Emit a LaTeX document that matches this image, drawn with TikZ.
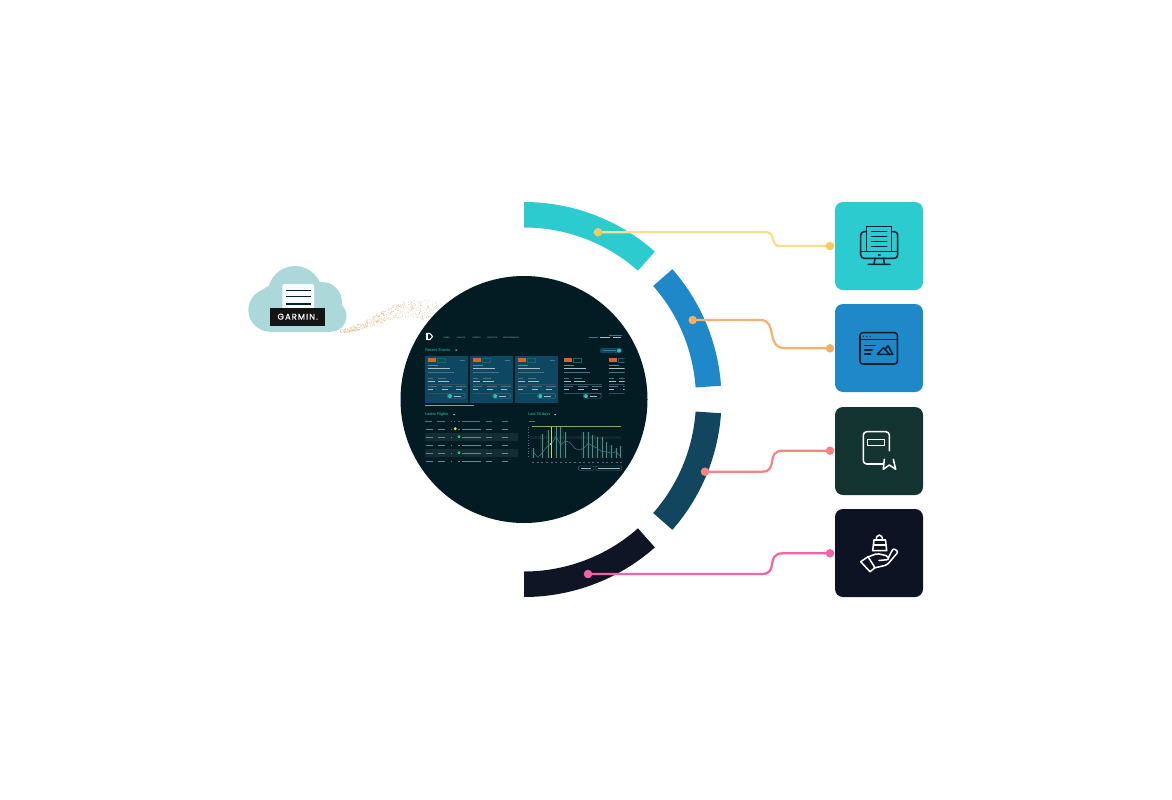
\documentclass[tikz,border=0pt]{standalone}
\usepackage{fontspec}
\usepackage{xcolor}
\setmainfont{Liberation Sans}
\newfontfamily\garminfont[LetterSpace=12,FakeBold=0.4]{Poppins}
\definecolor{ringteal}{HTML}{2CCBD0}
\definecolor{ringblue}{HTML}{1F88C9}
\definecolor{ringpetrol}{HTML}{12455E}
\definecolor{ringnavy}{HTML}{0F1524}
\definecolor{tilegreen}{HTML}{143432}
\definecolor{tilenavy}{HTML}{0D1322}
\definecolor{screenbg}{HTML}{031C24}
\definecolor{cardbg}{HTML}{0E4761}
\definecolor{cloudblue}{HTML}{ADD8DA}
\definecolor{trailtan}{HTML}{D9B07A}
\definecolor{linkyellow}{HTML}{F8DF8A}
\definecolor{dotyellow}{HTML}{F9C95C}
\definecolor{linkorange}{HTML}{F3B373}
\definecolor{dotorange}{HTML}{F5AE66}
\definecolor{linksalmon}{HTML}{F58484}
\definecolor{linkpink}{HTML}{F364A6}
\definecolor{icondark}{HTML}{07202B}
\definecolor{uigreen}{HTML}{2CC4B6}
\definecolor{uigrey}{HTML}{4C7382}
\definecolor{uiwhite}{HTML}{A9BDC3}
\definecolor{uiolive}{HTML}{8FA85A}
\definecolor{uiorange}{HTML}{D9632A}
\tikzset{
  tile/.style={minimum size=66pt, inner sep=0pt, rounded corners=6pt},
  dot/.style={circle, minimum size=6.4pt, inner sep=0pt},
  link/.style={line width=1.7pt},
  iconline/.style={line width=1.15pt, line join=round, line cap=round},
  uilabel/.style={inner sep=0pt, text=uiwhite, font=\fontsize{1.5}{1.5}\selectfont},
  uihead/.style={inner sep=0pt, text=uigreen, font=\fontsize{2.9}{2.9}\selectfont},
  barwhite/.style={draw=uiwhite, line width=0.55pt},
  bargrey/.style={draw=uigrey, line width=0.5pt},
  barteal/.style={draw=uigreen!70!cardbg, line width=0.5pt},
  rulegrey/.style={draw=uigrey!60!screenbg, line width=0.25pt},
}
\begin{document}
\begin{tikzpicture}[x=0.75pt, y=-0.75pt]
\useasboundingbox (0,0) rectangle (1172,800);

% Particle trail behind the screen
\pgfmathsetseed{7}
\foreach \i in {1,...,560} {
  \pgfmathsetmacro{\t}{rnd}
  \pgfmathsetmacro{\s}{min(1,\t/0.72)}
  \pgfmathsetmacro{\px}{340+99*\t}
  \pgfmathsetmacro{\py}{331-22*\s*\s*(3-2*\s)+5*pow(max(0,\t-0.72)/0.28,2)+(3+20*\t)*(rnd-0.5)}
  \fill[trailtan, opacity=0.7] (\px,\py) circle[radius=0.42];
}

% Cloud
\fill[cloudblue] (270,310) circle[radius=21.7];
\fill[cloudblue] (277,304) circle[radius=20];
\fill[cloudblue] (295,293) circle[radius=27];
\fill[cloudblue] (322,302) circle[radius=20];
\fill[cloudblue] (331,316.2) circle[radius=15.5];
\fill[cloudblue] (270,302) rectangle (331,331.7);
\fill[white!90!cloudblue, rounded corners=1.5pt] (282.3,284) rectangle (314,310);
\draw[icondark, line width=1pt] (286,290.7) -- (310.7,290.7);
\draw[icondark, line width=1pt] (286,296.7) -- (310.7,296.7);
\draw[icondark, line width=1pt] (286,304) -- (310.7,304);
\node[fill=black!92, text=white, minimum width=41.5pt, minimum height=13.5pt, inner sep=0pt, font=\garminfont\fontsize{6.3}{6.3}\selectfont] (garmin) at (297.7,316.7) {GARMIN.};

% Ring segments
\begin{scope}[shift={(524,399.5)}]
\fill[ringteal] (-90:197.5) arc[start angle=-90, end angle=-48.5, radius=197.5] -- (-48.5:172) arc[start angle=-48.5, end angle=-90, radius=172] -- cycle;
\fill[ringblue] (-41.3:197.5) arc[start angle=-41.3, end angle=-4, radius=197.5] -- (-4:172) arc[start angle=-4, end angle=-41.3, radius=172] -- cycle;
\fill[ringpetrol] (4:197.5) arc[start angle=4, end angle=41.3, radius=197.5] -- (41.3:172) arc[start angle=41.3, end angle=4, radius=172] -- cycle;
\fill[ringnavy] (48.5:197.5) arc[start angle=48.5, end angle=90, radius=197.5] -- (90:172) arc[start angle=90, end angle=48.5, radius=172] -- cycle;
\end{scope}

% Screen
\fill[screenbg] (524,399.5) circle[radius=123.5];

% Top bar
\fill[white] (425.5,333) rectangle (427.5,340);
\draw[white, line width=0.8pt] (427.5,333.5) -- (430,333.5) -- (432.5,336.5) -- (430,339.5) -- (427.5,339.5);
\node[uilabel] (navhome) at (446.7,337.7) {HOME};
\node[uilabel] (navflights) at (461,337.7) {FLIGHTS};
\node[uilabel] (navevents) at (476.7,337.7) {EVENTS};
\node[uilabel] (navreports) at (492.3,337.7) {REPORTS};
\node[uilabel] (navsponsors) at (511,337.7) {SPONSORSHIPS};
\draw[bargrey, line width=0.3pt] (609,335) -- (622,335);
\draw[bargrey, line width=0.4pt] (589,337.7) -- (598,337.7);
\draw[barwhite, line width=0.4pt] (599.5,337.7) -- (610,337.7);
\draw[barwhite, line width=0.4pt] (613,337.7) -- (621,337.7);

% Recent events header
\node[uihead, anchor=west] (recent) at (425,350.3) {Recent Events};
\fill[uiwhite] (455,349.6) -- (457.4,349.6) -- (456.2,351) -- cycle;
\fill[cardbg, rounded corners=1.5pt] (600,348) rectangle (622,353.2);
\fill[uigreen] (619,350.6) circle[radius=2];
\draw[bargrey, line width=0.5pt] (603,350.6) -- (615.5,350.6);

% Event cards
\foreach \cx in {425,470.3,515.3}
  \fill[cardbg] (\cx,355.7) rectangle +(43,47.6);
\begin{scope}
\clip (425,330) rectangle (624.5,404);
\foreach \cx in {425,470.3,515.3,561,606} {
  \fill[uiorange] (\cx+2.5,358) rectangle (\cx+10.5,361.7);
  \draw[uigreen!45!screenbg, line width=0.3pt] (\cx+12,358) rectangle (\cx+20,361.7);
  \draw[barteal] (\cx+2.5,365) -- (\cx+13,365);
  \draw[barwhite] (\cx+2.5,368.7) -- (\cx+25,368.7);
  \draw[bargrey] (\cx+2.5,372.7) -- (\cx+29,372.7);
  \draw[bargrey] (\cx+2.5,378.7) -- (\cx+8,378.7) (\cx+13,378.7) -- (\cx+21,378.7);
  \draw[barwhite] (\cx+2.5,381.3) -- (\cx+10,381.3) (\cx+13,381.3) -- (\cx+24,381.3);
  \draw[rulegrey] (\cx+2.5,384) -- (\cx+41,384);
  \draw[bargrey] (\cx+2.5,386.7) -- (\cx+12,386.7) (\cx+17,386.7) -- (\cx+27,386.7) (\cx+31,386.7) -- (\cx+41,386.7);
  \draw[barwhite] (\cx+2.5,389.3) -- (\cx+8,389.3) (\cx+17,389.3) -- (\cx+23,389.3) (\cx+31,389.3) -- (\cx+37,389.3);
  \draw[rulegrey] (\cx+2.5,392.7) -- (\cx+41,392.7);
  \draw[uigrey, line width=0.3pt, rounded corners=1.6pt] (\cx+22.3,393.7) rectangle (\cx+40.3,398.5);
  \fill[uigreen] (\cx+25,396.1) circle[radius=2];
  \draw[barwhite, line width=0.4pt] (\cx+28.5,396.1) -- (\cx+36,396.1);
}
\end{scope}
\foreach \cx in {425,470.3,515.3}
  \draw[bargrey] (\cx+34.5,360) -- (\cx+39.5,360);
\draw[uiolive, line width=0.6pt] (425,405.7) -- (474,405.7);

% Latest flights
\node[uihead, anchor=west] (flights) at (425,414.7) {Latest Flights};
\fill[uiwhite] (453,414) -- (455.4,414) -- (454.2,415.4) -- cycle;
\foreach \ry in {432.7,448.7}
  \fill[white, opacity=0.07] (425,\ry) rectangle (517.7,\ry+8);
\foreach \cola/\colb in {425/432,437/445,450.5/452,453.8/455.4,458/460,462/480,485.5/492,502/508}
  \draw[bargrey, line width=0.4pt] (\cola,421) -- (\colb,421);
\foreach \ry in {429,437,445,453,461} {
  \foreach \cola/\colb in {426/433,438/445,450.5/452,458/460,462/481,485.5/492,502/508}
    \draw[draw=uiwhite!65!screenbg, line width=0.5pt] (\cola,\ry) -- (\colb,\ry);
}
\fill[yellow!80!uiolive] (455.3,428.7) circle[radius=1.6];
\fill[green!55!uigreen] (459,436.7) circle[radius=1.5];
\fill[green!55!uigreen] (459,452.7) circle[radius=1.5];

% Last 30 days chart
\node[uihead, anchor=west] (days) at (528,414.7) {Last 30 days};
\fill[uiwhite] (554,414) -- (556.4,414) -- (555.2,415.4) -- cycle;
\draw[bargrey, line width=0.4pt] (528.7,421) -- (535,421);
\fill[white, opacity=0.05] (530,435.5) rectangle (621,439);
\draw[uigrey, line width=0.5pt, dash pattern=on 0.5pt off 1.5pt] (528.7,426.7) -- (528.7,458);
\foreach \bx/\by in {533.3/448.3,542.3/434.3,548.3/430,556/426.7,560.7/427.3,565.3/431.7,583.3/431.7,588.3/431.7,592.7/435,597.3/437.3,602/437.3,606.7/441.7,611.3/445,616/448.3,620.7/446} {
  \fill[uigreen, opacity=0.08] (\bx-2,\by) rectangle (\bx+2,458);
  \draw[uigrey!70!uiolive, line width=0.4pt] (\bx,\by) -- (\bx,458);
}
\draw[uiolive, line width=0.55pt] (531.7,426.7) -- (620.7,426.7);
\draw[yellow!60!uiolive, line width=0.6pt] (551.3,426.7) -- (551.3,458);
\draw[uigrey, line width=0.4pt] (533.3,451.7) -- (537.7,457.3) -- (542.3,452.7) -- (546.7,446.7) -- (551.3,444) -- (556,436.7) -- (560.7,445) -- (565.3,440.7) -- (570,442.7) -- (574.7,448.3) -- (579.3,450) -- (583.7,448.3) -- (588.3,443.3) -- (592.7,446) -- (597.3,448.3) -- (602,451.7) -- (606.7,451.7) -- (611.3,453.3) -- (616,451.7) -- (620.7,456.7);
\fill[uiwhite] (550.3,443) rectangle (552.3,445);
\foreach \i in {0,...,19}
  \draw[bargrey, line width=0.4pt] (532+\i*4.65,462.3) -- (534+\i*4.65,462.3);
\draw[uigrey, line width=0.3pt, rounded corners=0.8pt] (578.3,466) rectangle (594,470.2);
\draw[uigrey, line width=0.3pt, rounded corners=0.8pt] (595.7,466) rectangle (621.7,470.2);
\draw[barwhite, line width=0.35pt] (581,468.1) -- (591,468.1);
\draw[barwhite, line width=0.35pt] (598,468.1) -- (619.5,468.1);

% Tiles
\node[tile, fill=ringteal] (tileA) at (879,246) {};
\node[tile, fill=ringblue] (tileB) at (879,348) {};
\node[tile, fill=tilegreen] (tileC) at (879,451) {};
\node[tile, fill=tilenavy] (tileD) at (879,553) {};

% Connector ends
\coordinate (startA) at (598,232.3);
\coordinate (startB) at (692.7,320);
\coordinate (startC) at (705,471.7);
\coordinate (startD) at (588,574);
\coordinate (endA) at (830,246);
\coordinate (endB) at (830,348.3);
\coordinate (endC) at (830,450.7);
\coordinate (endD) at (830,553.3);

% Connectors
\draw[link, linkyellow] (startA) -- (767,232.3) .. controls (775,232.3) and (771,246) .. (779,246) -- (endA);
\draw[link, linkorange] (startB) -- (760,320) .. controls (779,320) and (764,348.3) .. (786,348.3) -- (endB);
\draw[link, linksalmon] (startC) -- (762,471.7) .. controls (779,471.7) and (765,450.7) .. (783,450.7) -- (endC);
\draw[link, linkpink] (startD) -- (762,574) .. controls (779,574) and (765,553.3) .. (783,553.3) -- (endD);

% Dots
\node[dot, fill=dotyellow] (dotA) at (startA) {};
\node[dot, fill=dotorange] (dotB) at (startB) {};
\node[dot, fill=linksalmon] (dotC) at (startC) {};
\node[dot, fill=linkpink] (dotD) at (startD) {};
\node[dot, fill=dotyellow] (dotE) at (endA) {};
\node[dot, fill=dotorange] (dotF) at (endB) {};
\node[dot, fill=linksalmon] (dotG) at (endC) {};
\node[dot, fill=linkpink] (dotH) at (endD) {};

% Monitor icon
\draw[iconline, icondark, rounded corners=2.5pt] (860.7,231.7) rectangle (897.7,258.3);
\draw[iconline, icondark] (860.7,251.7) -- (897.7,251.7);
\draw[iconline, icondark, fill=ringteal] (866.7,226.7) rectangle (891.7,251.7);
\foreach \ly in {231.7,236.7,241.7,246.7}
  \draw[iconline, icondark] (871.7,\ly) -- (886.7,\ly);
\draw[iconline, icondark] (875,258.3) -- (874,264.3) (883.5,258.3) -- (884.5,264.3) (868.3,264.3) -- (890,264.3);
\draw[iconline, icondark] (878.5,255) -- (880,255);

% Window icon
\draw[iconline, icondark, rounded corners=2pt] (860,332.7) rectangle (897.3,364);
\draw[iconline, icondark] (860,339.7) -- (897.3,339.7);
\foreach \lx in {863.3,866.7,870}
  \fill[icondark] (\lx,336.3) circle[radius=0.7];
\draw[iconline, icondark] (864.7,345.7) -- (875,345.7) (864.7,350) -- (872,350) (864.7,354) -- (870.7,354);
\draw[iconline, icondark] (877.3,354.3) -- (883.5,347.7) -- (889.5,354.3) -- cycle;
\draw[iconline, icondark] (885.3,349.5) -- (888,345.5) -- (892.7,354.3) -- (889.5,354.3);

% Book icon
\draw[iconline, white, rounded corners=2.5pt] (883.3,464) -- (863.3,464) -- (863.3,431.7) -- (889.3,431.7) -- (889.3,450.7);
\draw[iconline, white] (867.7,439.3) rectangle (884.3,445.7);
\draw[iconline, white] (884.3,459.3) -- (883.3,469.3) -- (889.3,465) -- (895.7,469.3) -- (893.3,459.3);

% Hand icon
\draw[iconline, white] (872.7,550.7) -- (874,540) -- (885.5,540) -- (886.7,550.7) -- cycle;
\draw[iconline, white] (873.5,545) -- (886,545);
\draw[iconline, white] (876.2,540) .. controls (876,533.5) and (882.7,533.5) .. (882.5,540);
\draw[iconline, white] (860.7,561.7) -- (868,556.7) -- (875,567.7) -- (870,571.7) -- cycle;
\draw[iconline, white, rounded corners=1.5pt] (868,557) -- (877,553.5) -- (888,556) -- (889,559.5) -- (879,560.5);
\draw[iconline, white, rounded corners=1.5pt] (888.5,557.5) -- (893.3,548.3) -- (898.3,551.7) -- (887,565) -- (874,568);
\end{tikzpicture}
\end{document}
